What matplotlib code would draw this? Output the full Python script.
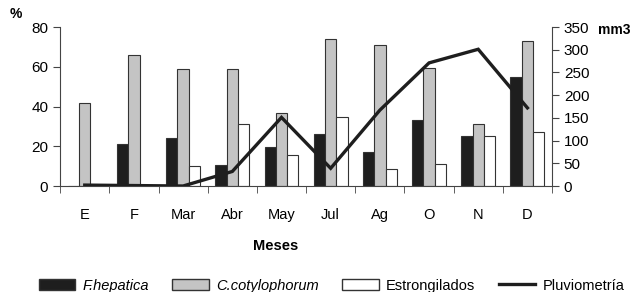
import matplotlib
matplotlib.use("Agg")
import matplotlib.pyplot as plt
from matplotlib.patches import Patch
from matplotlib.lines import Line2D
import numpy as np

plt.rcParams['font.family'] = ['Liberation Sans', 'DejaVu Sans']

# Data
meses = ["E", "F", "Mar", "Abr", "May", "Jul", "Ag", "O", "N", "D"]
f_hepatica = [0, 21, 24, 10.5, 19.5, 26, 17, 33, 25, 55]
c_cotylophorum = [42, 66, 59, 59, 36.5, 74, 71, 59.5, 31, 73]
estrongilados = [0, 0, 10, 31, 15.5, 34.5, 8.5, 11, 25, 27]
pluviometria = [2, 1, 0, 32, 151, 39, 167, 271, 301, 172]

edge = "#333333"
axcol = "#444444"

fig = plt.figure(figsize=(6.4, 2.92), dpi=100)
ax = fig.add_axes([0.094, 0.363, 0.7685, 0.5445])
x = np.arange(len(meses))
w = 0.23

ax.bar(x - w, f_hepatica, w, color="#1e1e1e", edgecolor=edge, linewidth=0.8)
ax.bar(x, c_cotylophorum, w, color="#c4c4c4", edgecolor=edge, linewidth=0.8)
ax.bar(x + w, estrongilados, w, color="white", edgecolor=edge, linewidth=0.8)

ax.set_xlim(-0.5, len(meses) - 0.5)
ax.set_ylim(0, 80)
ax.set_yticks([0, 20, 40, 60, 80])
ax.set_xticks(x)
ax.set_xticklabels(meses)
ax.set_xticks(np.arange(-0.5, len(meses), 1), minor=True)
ax.tick_params(axis="x", which="major", length=0, pad=16, labelsize=10.5)
ax.tick_params(axis="x", which="minor", length=5, color=axcol)
ax.tick_params(axis="y", length=5, color=axcol, labelsize=11)
for s in ["top", "right"]:
    ax.spines[s].set_visible(False)
for s in ["left", "bottom"]:
    ax.spines[s].set_color(axcol)

ax2 = ax.twinx()
ax2.plot(x, pluviometria, color="#1e1e1e", linewidth=2.4, solid_joinstyle="miter")
ax2.set_ylim(0, 350)
ax2.set_yticks(range(0, 351, 50))
ax2.tick_params(axis="y", length=5, color=axcol, labelsize=11)
for s in ["top", "left", "bottom"]:
    ax2.spines[s].set_visible(False)
ax2.spines["right"].set_color(axcol)

fig.text(0.015, 0.94, "%", fontsize=10, fontweight="bold")
fig.text(0.935, 0.885, "mm3", fontsize=10, fontweight="bold")
fig.text(0.431, 0.145, "Meses", fontsize=10.5, fontweight="bold", ha="center")

handles = [
    Patch(facecolor="#1e1e1e", edgecolor=edge),
    Patch(facecolor="#c4c4c4", edgecolor=edge),
    Patch(facecolor="white", edgecolor=edge),
    Line2D([], [], color="#1e1e1e", linewidth=2.4),
]
labels = ["F.hepatica", "C.cotylophorum", "Estrongilados", "Pluviometría"]
leg = fig.legend(handles, labels, loc="center", bbox_to_anchor=(0.518, 0.022),
                 ncol=4, frameon=False, fontsize=10.5, handlelength=2.5,
                 handleheight=0.75, columnspacing=1.6, handletextpad=0.5,
                 borderpad=0)
for t in leg.get_texts()[:2]:
    t.set_style("italic")

fig.savefig("out.png", dpi=100)
